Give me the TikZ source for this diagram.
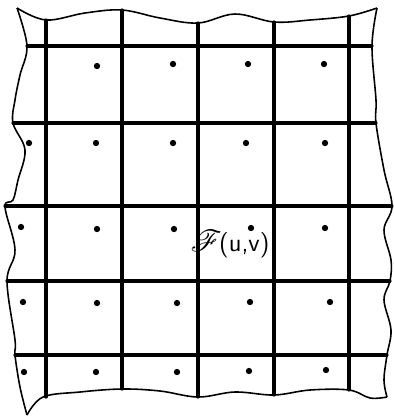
\documentclass[tikz,border=0pt]{standalone}
\usepackage{amsmath,amssymb}
\usepackage{mathrsfs}
\usepackage{tikz}

\begin{document}
\begin{tikzpicture}[
  x=0.02cm, y=-0.02cm,
  gridline/.style={line width=1.8pt, line cap=round},
  border/.style={line width=0.9pt, line join=round},
  dot/.style={fill=black},
]
  \useasboundingbox (0,0) rectangle (394,417);
  % ragged border of the sheet
  \draw[border] plot[smooth, tension=0.6] coordinates {
    (17,8) (46,20) (85,13) (122,10) (160,18) (198,23) (235,14) (274,22)
    (310,20) (349,16) (377,8)};
  \draw[border] plot[smooth, tension=0.6] coordinates {
    (377,8) (372,46) (376,100) (376,123) (384,170) (392,206) (384,230)
    (391,260) (390,281) (384,300) (391,330) (387,355) (384,380) (387,397)};
  \draw[border] plot[smooth, tension=0.6] coordinates {
    (17,8) (27,46) (20,75) (15,100) (13,123) (25,150) (18,180) (13,200)
    (5,207) (15,250) (7,281) (15,340) (15,355) (20,387) (27,415)};
  \draw[border] plot[smooth, tension=0.6] coordinates {
    (27,415) (43,397) (80,392) (122,389) (160,391) (198,397) (235,392)
    (274,395) (310,390) (349,390) (370,398) (387,397)};
  % grid
  \foreach \x/\ya/\yb in {46/20/397, 122/10/389, 198/23/397, 274/22/395, 349/16/390}
    \draw[gridline] (\x,\ya) -- (\x,\yb);
  \foreach \y/\xa/\xb in {46/27/372, 123/13/376, 206/5/392, 281/7/390, 355/15/387}
    \draw[gridline] (\xa,\y) -- (\xb,\y);
  % sample points
  \foreach \x/\y in {97/66, 173/64, 248/64, 324/64,
                     29/143, 96/143, 173/143, 246/143, 325/143,
                     21/227, 97/229, 174/229, 251/228, 325/228,
                     23/302, 97/303, 177/303, 250/302, 330/302,
                     24/372, 96/372, 177/372, 249/371, 326/370}
    \fill[dot] (\x,\y) circle[radius=1.8pt];
  \node[font=\Large, inner sep=0pt] (fuv) at (230,244)
    {{\LARGE$\mathscr{F}$}\kern-1.5pt\textsf{(u,v)}};
\end{tikzpicture}
\end{document}
